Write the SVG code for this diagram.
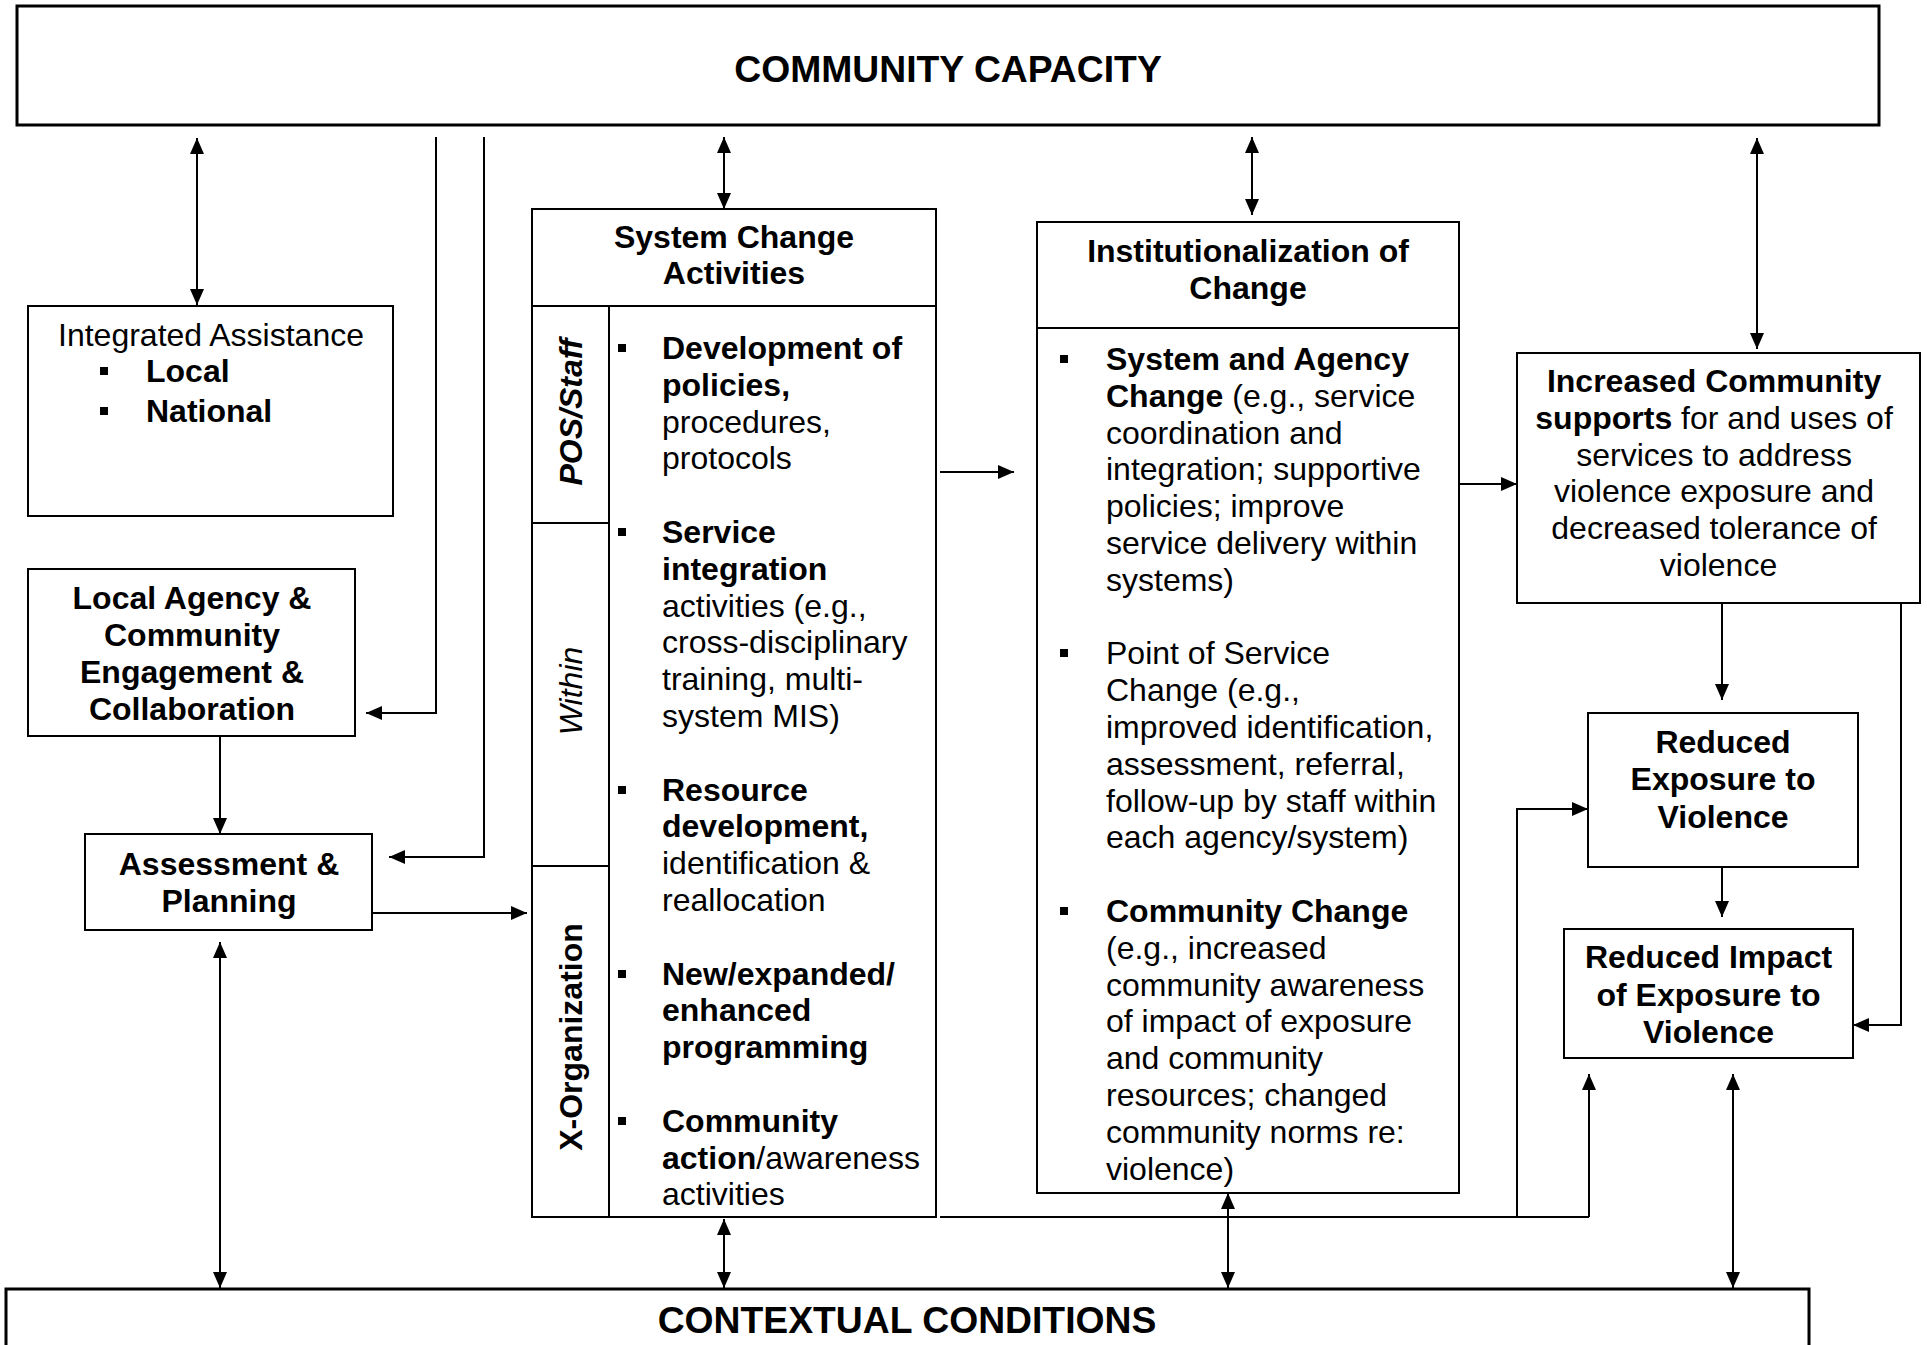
<svg xmlns="http://www.w3.org/2000/svg" xmlns:xlink="http://www.w3.org/1999/xlink" width="1927" height="1345" viewBox="0 0 1927 1345">
<style>
.box{fill:#fff;stroke:#000;stroke-width:2}
.big{fill:#fff;stroke:#000;stroke-width:3}
.div{stroke:#000;stroke-width:2;fill:none}
.t{font-family:"Liberation Sans",Arial,sans-serif;font-size:32px;fill:#000}
.ttl{font-family:"Liberation Sans",Arial,sans-serif;font-size:37.3px;font-weight:bold;fill:#000}
.b{font-weight:bold}
.i{font-style:italic}
.c{text-anchor:middle}
.conn path{fill:none;stroke:#000;stroke-width:2}
.bul{fill:#000}
</style>
<defs>
<marker id="ah" viewBox="0 0 16 14" refX="16" refY="7" markerWidth="16" markerHeight="14" orient="auto-start-reverse" markerUnits="userSpaceOnUse">
<path d="M0,0 L16,7 L0,14 z" fill="#000"/>
</marker>
<rect id="sq" width="8" height="8"/>
</defs>
<rect width="1927" height="1345" fill="#fff"/>

<g id="community-capacity">
<rect class="big" x="17" y="6" width="1862" height="119"/>
<text class="ttl c" x="948" y="82">COMMUNITY CAPACITY</text>
</g>

<g id="contextual-conditions">
<rect class="big" x="6" y="1289" width="1803" height="80"/>
<text class="ttl c" x="907" y="1333">CONTEXTUAL CONDITIONS</text>
</g>

<g id="integrated-assistance">
<rect class="box" x="28" y="306" width="365" height="210"/>
<text class="t c" x="211" y="346">Integrated Assistance</text>
<use href="#sq" class="bul" x="100" y="367"/>
<text class="t b" x="146" y="382">Local</text>
<use href="#sq" class="bul" x="100" y="407"/>
<text class="t b" x="146" y="422">National</text>
</g>

<g id="local-agency">
<rect class="box" x="28" y="569" width="327" height="167"/>
<text class="t b c" x="192" y="609">Local Agency &amp;</text>
<text class="t b c" x="192" y="646">Community</text>
<text class="t b c" x="192" y="683">Engagement &amp;</text>
<text class="t b c" x="192" y="720">Collaboration</text>
</g>

<g id="assessment-planning">
<rect class="box" x="85" y="834" width="287" height="96"/>
<text class="t b c" x="229" y="875">Assessment &amp;</text>
<text class="t b c" x="229" y="912">Planning</text>
</g>

<g id="system-change">
<rect class="box" x="532" y="209" width="404" height="1008"/>
<path class="div" d="M532,306 H936 M609,306 V1217 M532,523 H609 M532,866 H609"/>
<text class="t b c" x="734" y="248">System Change</text>
<text class="t b c" x="734" y="284">Activities</text>
<text class="t b i c" transform="translate(582,412) rotate(-90)">POS/Staff</text>
<text class="t i c" transform="translate(582,691) rotate(-90)">Within</text>
<text class="t b c" transform="translate(582,1037) rotate(-90)">X-Organization</text>
<use href="#sq" class="bul" x="618" y="344"/>
<use href="#sq" class="bul" x="618" y="528"/>
<use href="#sq" class="bul" x="618" y="786"/>
<use href="#sq" class="bul" x="618" y="970"/>
<use href="#sq" class="bul" x="618" y="1117"/>
<text class="t" x="662">
<tspan class="b" x="662" y="359">Development of</tspan>
<tspan class="b" x="662" y="395.8">policies,</tspan>
<tspan x="662" y="432.6">procedures,</tspan>
<tspan x="662" y="469.4">protocols</tspan>
<tspan class="b" x="662" y="543">Service</tspan>
<tspan class="b" x="662" y="579.8">integration</tspan>
<tspan x="662" y="616.6">activities (e.g.,</tspan>
<tspan x="662" y="653.4">cross-disciplinary</tspan>
<tspan x="662" y="690.2">training, multi-</tspan>
<tspan x="662" y="727">system MIS)</tspan>
<tspan class="b" x="662" y="800.6">Resource</tspan>
<tspan class="b" x="662" y="837.4">development,</tspan>
<tspan x="662" y="874.2">identification &amp;</tspan>
<tspan x="662" y="911">reallocation</tspan>
<tspan class="b" x="662" y="984.6">New/expanded/</tspan>
<tspan class="b" x="662" y="1021.4">enhanced</tspan>
<tspan class="b" x="662" y="1058.2">programming</tspan>
<tspan class="b" x="662" y="1131.8">Community</tspan>
<tspan class="b" x="662" y="1168.6">action</tspan><tspan>/awareness</tspan>
<tspan x="662" y="1205.4">activities</tspan>
</text>
</g>

<g id="institutionalization">
<rect class="box" x="1037" y="222" width="422" height="971"/>
<path class="div" d="M1037,328 H1459"/>
<text class="t b c" x="1248" y="262">Institutionalization of</text>
<text class="t b c" x="1248" y="299">Change</text>
<use href="#sq" class="bul" x="1060" y="355"/>
<use href="#sq" class="bul" x="1060" y="649"/>
<use href="#sq" class="bul" x="1060" y="907"/>
<text class="t" x="1106">
<tspan class="b" x="1106" y="370">System and Agency</tspan>
<tspan class="b" x="1106" y="406.8">Change</tspan><tspan> (e.g., service</tspan>
<tspan x="1106" y="443.6">coordination and</tspan>
<tspan x="1106" y="480.4">integration; supportive</tspan>
<tspan x="1106" y="517.2">policies; improve</tspan>
<tspan x="1106" y="554">service delivery within</tspan>
<tspan x="1106" y="590.8">systems)</tspan>
<tspan x="1106" y="664.4">Point of Service</tspan>
<tspan x="1106" y="701.2">Change (e.g.,</tspan>
<tspan x="1106" y="738">improved identification,</tspan>
<tspan x="1106" y="774.8">assessment, referral,</tspan>
<tspan x="1106" y="811.6">follow-up by staff within</tspan>
<tspan x="1106" y="848.4">each agency/system)</tspan>
<tspan class="b" x="1106" y="922">Community Change</tspan>
<tspan x="1106" y="958.8">(e.g., increased</tspan>
<tspan x="1106" y="995.6">community awareness</tspan>
<tspan x="1106" y="1032.4">of impact of exposure</tspan>
<tspan x="1106" y="1069.2">and community</tspan>
<tspan x="1106" y="1106">resources; changed</tspan>
<tspan x="1106" y="1142.8">community norms re:</tspan>
<tspan x="1106" y="1179.6">violence)</tspan>
</text>
</g>

<g id="increased-community-supports">
<rect class="box" x="1517" y="353" width="403" height="250"/>
<text class="t c">
<tspan class="b" x="1718.5" y="392">Increased Community</tspan>
<tspan x="1718.5" y="428.8"><tspan class="b">supports</tspan> for and uses of</tspan>
<tspan x="1718.5" y="465.6">services to address</tspan>
<tspan x="1718.5" y="502.4">violence exposure and</tspan>
<tspan x="1718.5" y="539.2">decreased tolerance of</tspan>
<tspan x="1718.5" y="576">violence</tspan>
</text>
</g>

<g id="reduced-exposure">
<rect class="box" x="1588" y="713" width="270" height="154"/>
<text class="t b c" x="1723" y="753">Reduced</text>
<text class="t b c" x="1723" y="790">Exposure to</text>
<text class="t b c" x="1723" y="828">Violence</text>
</g>

<g id="reduced-impact">
<rect class="box" x="1564" y="929" width="289" height="129"/>
<text class="t b c" x="1708.5" y="968">Reduced Impact</text>
<text class="t b c" x="1708.5" y="1006">of Exposure to</text>
<text class="t b c" x="1708.5" y="1043">Violence</text>
</g>

<g id="connectors" class="conn">
<path d="M197,138 V305" marker-start="url(#ah)" marker-end="url(#ah)"/>
<path d="M436,137 V713 H366" marker-end="url(#ah)"/>
<path d="M484,137 V857 H389" marker-end="url(#ah)"/>
<path d="M220,736 V834" marker-end="url(#ah)"/>
<path d="M372,913 H527" marker-end="url(#ah)"/>
<path d="M220,942 V1288" marker-start="url(#ah)" marker-end="url(#ah)"/>
<path d="M724,137 V209" marker-start="url(#ah)" marker-end="url(#ah)"/>
<path d="M940,472 H1014" marker-end="url(#ah)"/>
<path d="M1252,137 V215" marker-start="url(#ah)" marker-end="url(#ah)"/>
<path d="M1459,484 H1517" marker-end="url(#ah)"/>
<path d="M1757,138 V349" marker-start="url(#ah)" marker-end="url(#ah)"/>
<path d="M1722,603 V700" marker-end="url(#ah)"/>
<path d="M1901,603 V1025 H1853" marker-end="url(#ah)"/>
<path d="M1722,867 V917" marker-end="url(#ah)"/>
<path d="M940,1217 H1589"/>
<path d="M1517,1217 V809 H1588" marker-end="url(#ah)"/>
<path d="M1589,1217 V1074" marker-end="url(#ah)"/>
<path d="M724,1219 V1288" marker-start="url(#ah)" marker-end="url(#ah)"/>
<path d="M1228,1193 V1288" marker-start="url(#ah)" marker-end="url(#ah)"/>
<path d="M1733,1074 V1288" marker-start="url(#ah)" marker-end="url(#ah)"/>
</g>
</svg>
